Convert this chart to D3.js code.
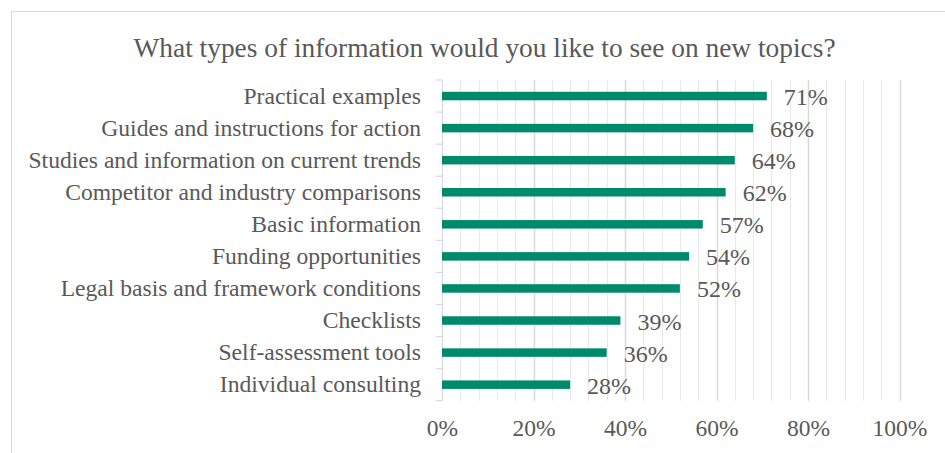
<!DOCTYPE html>
<html>
<head>
<meta charset="utf-8">
<script src="https://cdn.jsdelivr.net/npm/d3@7"></script>
<style>
  html, body { margin: 0; padding: 0; background: #fff; }
  svg { display: block; }
  text { font-family: "Liberation Serif", "Times New Roman", serif; fill: #595959; }
</style>
</head>
<body>
<div id="chart"></div>
<script>
// Survey answers, listed top to bottom
const categories = [
  "Practical examples",
  "Guides and instructions for action",
  "Studies and information on current trends",
  "Competitor and industry comparisons",
  "Basic information",
  "Funding opportunities",
  "Legal basis and framework conditions",
  "Checklists",
  "Self-assessment tools",
  "Individual consulting"
];
const shares = [71, 68, 64, 62, 57, 54, 52, 39, 36, 28];
const xTicks = [0, 20, 40, 60, 80, 100];
const minorTicks = d3.range(0, 101, 4);
const titleText = "What types of information would you like to see on new topics?";

const W = 945, H = 453;
const plot = { left: 442, right: 899.5, top: 80, bottom: 400.7 };
const barColor = "#008a6c";
const serif = "'Liberation Serif', 'Times New Roman', serif";

const svg = d3.select("#chart").append("svg")
  .attr("width", W).attr("height", H);

// chart frame
svg.append("rect")
  .attr("x", 11.5).attr("y", 11.5)
  .attr("width", W + 20).attr("height", H + 20)
  .attr("fill", "#fff").attr("stroke", "#d9d9d9").attr("stroke-width", 1);

svg.append("text")
  .attr("x", 484.5).attr("y", 56.5)
  .attr("text-anchor", "middle")
  .style("font-size", "27.4px")
  .text(titleText);

const x = d3.scaleLinear().domain([0, 100]).range([plot.left, plot.right]);
const y = d3.scaleBand().domain(categories).range([plot.top, plot.bottom]).paddingInner(0).paddingOuter(0);

// minor gridlines
svg.append("g").selectAll("line")
  .data(minorTicks.filter(v => v % 20 !== 0))
  .join("line")
  .attr("x1", d => Math.round(x(d)) + 0.5).attr("x2", d => Math.round(x(d)) + 0.5)
  .attr("y1", plot.top).attr("y2", plot.bottom)
  .attr("stroke", "#e8e8e8").attr("stroke-width", 1);

// major gridlines
svg.append("g").selectAll("line")
  .data(xTicks.filter(v => v > 0))
  .join("line")
  .attr("x1", d => Math.round(x(d)) + 0.5).attr("x2", d => Math.round(x(d)) + 0.5)
  .attr("y1", plot.top).attr("y2", plot.bottom)
  .attr("stroke", "#d9d9d9").attr("stroke-width", 1.5);

// x axis labels
const xAxis = d3.axisBottom(x).tickValues(xTicks).tickFormat(d => d + "%").tickSize(0).tickPadding(19);
const gx = svg.append("g").attr("transform", `translate(0,${plot.bottom})`).call(xAxis);
gx.select(".domain").remove();
gx.selectAll("text").style("font-size", "23.5px").style("font-family", serif).attr("fill", "#595959");

// category axis with ticks at band boundaries
const gy = svg.append("g").attr("transform", `translate(${plot.left},0)`)
  .call(d3.axisLeft(y).tickSize(0).tickPadding(21));
gy.select(".domain").attr("stroke", "#d9d9d9").attr("stroke-width", 1.2);
gy.selectAll("text").style("font-size", "23.6px").style("font-family", serif).attr("fill", "#595959");
const bounds = categories.map(c => y(c)).concat([plot.bottom]);
gy.append("g").selectAll("line").data(bounds).join("line")
  .attr("x1", -6).attr("x2", 0)
  .attr("y1", d => d).attr("y2", d => d)
  .attr("stroke", "#d9d9d9").attr("stroke-width", 1.2);

// bars
const barH = 8.5;
svg.append("g").selectAll("rect")
  .data(shares)
  .join("rect")
  .attr("x", x(0))
  .attr("y", (d, i) => y(categories[i]) + y.bandwidth() / 2 - barH / 2)
  .attr("width", d => x(d) - x(0))
  .attr("height", barH)
  .attr("fill", barColor);

// value labels
svg.append("g").selectAll("text")
  .data(shares)
  .join("text")
  .attr("x", d => x(d) + 17)
  .attr("y", (d, i) => y(categories[i]) + y.bandwidth() / 2 + 9)
  .style("font-size", "24px")
  .text(d => d + "%");
</script>
</body>
</html>
